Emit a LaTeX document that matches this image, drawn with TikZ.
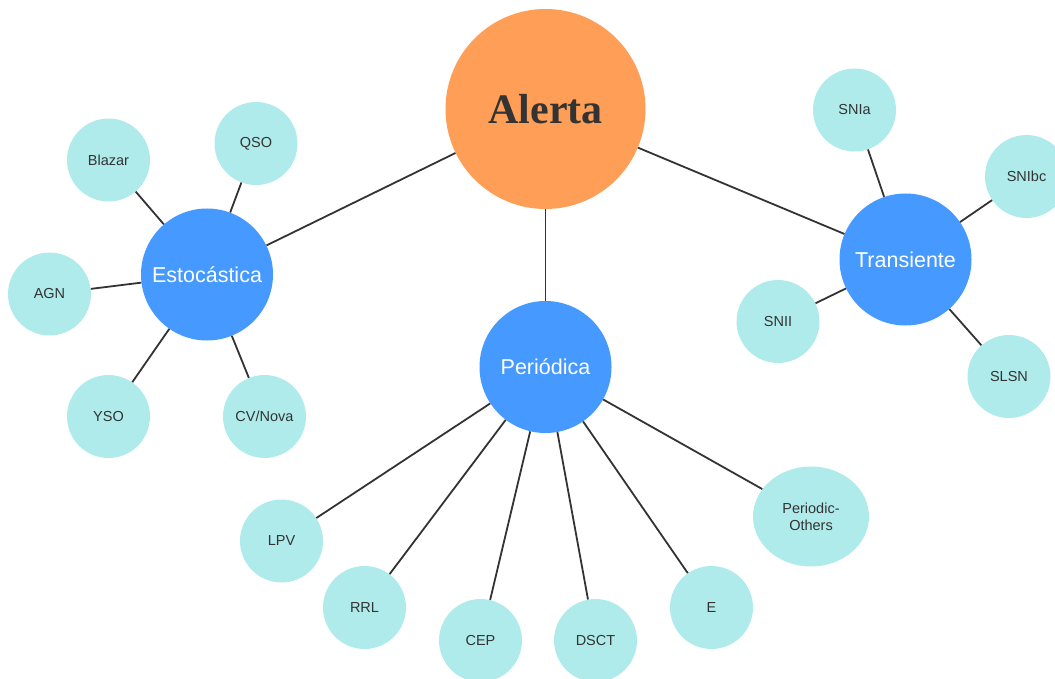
\documentclass[tikz,border=0pt]{standalone}
\usepackage{fontspec}
\setmainfont{Liberation Sans}
\newfontfamily\titlefont{Liberation Serif}
\usetikzlibrary{shapes.geometric}
\definecolor{alertorange}{RGB}{255,158,86}
\definecolor{classblue}{RGB}{69,153,255}
\definecolor{leafcyan}{RGB}{175,235,235}
\definecolor{inkgray}{RGB}{51,51,51}
\begin{document}
\begin{tikzpicture}[x=1pt,y=-1pt,
    root/.style={circle,fill=alertorange,minimum size=200pt,inner sep=0pt,
      text=inkgray,font=\titlefont\fontsize{42}{46}\selectfont\bfseries},
    hub/.style={circle,fill=classblue,minimum size=132pt,inner sep=0pt,
      text=white,font=\fontsize{21.5}{24}\selectfont},
    leaf/.style={circle,fill=leafcyan,minimum size=83pt,inner sep=0pt,
      text=inkgray,font=\fontsize{14.5}{17}\selectfont},
    link/.style={draw=inkgray,line width=1.8pt}]
      \useasboundingbox (0,0) rectangle (1055,679);
      \draw
        (545.5,109) node[root] (alerta){Alerta}
        (207,274.5) node[hub] (esto){Estocástica}
        (545.5,367) node[hub] (peri){Periódica}
        (905.5,259.5) node[hub] (tran){Transiente}
        (108.5,160) node[leaf] (blazar){Blazar}
        (256,143.5) node[leaf] (qso){QSO}
        (49.5,294) node[leaf] (agn){AGN}
        (108.5,416.5) node[leaf] (yso){YSO}
        (264.5,416.5) node[leaf] (cvnova){CV/Nova}
        (281.5,541) node[leaf] (lpv){LPV}
        (364.5,607.5) node[leaf] (rrl){RRL}
        (480.5,640.5) node[leaf] (cep){CEP}
        (595.5,640.5) node[leaf] (dsct){DSCT}
        (711.5,607.5) node[leaf] (e){E}
        (811,516.5) node[leaf,ellipse,minimum width=116pt,minimum height=100pt,
          align=center] (others){Periodic-\\Others}
        (854.5,110) node[leaf] (snia){SNIa}
        (1026.5,176.5) node[leaf] (snibc){SNIbc}
        (778,321.5) node[leaf] (snii){SNII}
        (1009,376.5) node[leaf] (slsn){SLSN};
      \begin{scope}[link]
        \draw (alerta) to (esto);
        \draw (alerta) to (peri);
        \draw (alerta) to (tran);
        \draw (esto) to (blazar);
        \draw (esto) to (qso);
        \draw (esto) to (agn);
        \draw (esto) to (yso);
        \draw (esto) to (cvnova);
        \draw (peri) to (lpv);
        \draw (peri) to (rrl);
        \draw (peri) to (cep);
        \draw (peri) to (dsct);
        \draw (peri) to (e);
        \draw (peri) to (others);
        \draw (tran) to (snia);
        \draw (tran) to (snibc);
        \draw (tran) to (snii);
        \draw (tran) to (slsn);
      \end{scope}
    \end{tikzpicture}
\end{document}
